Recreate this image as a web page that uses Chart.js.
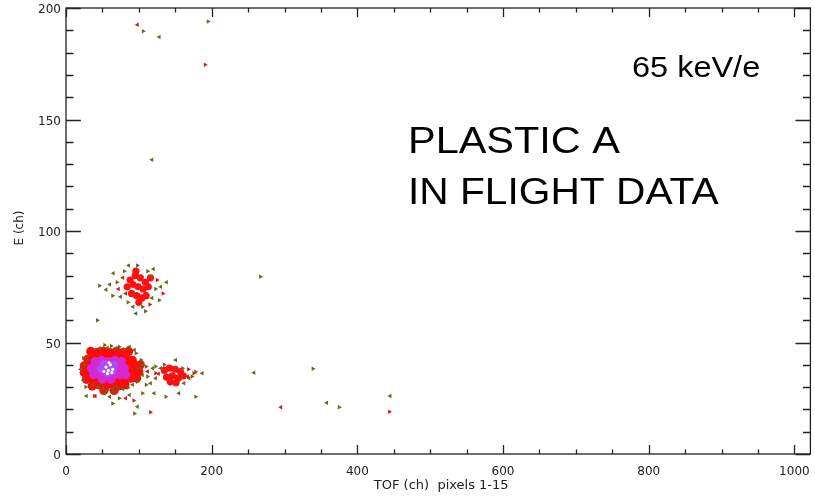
<!DOCTYPE html>
<html>
<head>
<meta charset="utf-8">
<script src="https://cdn.jsdelivr.net/npm/chart.js@4"></script>
<style>
  html, body { margin: 0; padding: 0; background: #fff; }
  #wrap { width: 815px; height: 498px; }
</style>
</head>
<body>
<div id="wrap"><canvas id="c"></canvas></div>
<script>
// ── Axis ticks ───────────────────────────────────────────────
const xTicks = [0, 200, 400, 600, 800, 1000];
const yTicks = [0, 50, 100, 150, 200];
const xMinorStep = 50;
const yMinorStep = 10;

// ── Events, [TOF ch, E ch] ───────────────────────────────────
// dense core of the main spot (red level)
const mainCore = [
  [42,45.5],[51,46],[60,45.5],[69,46],[78,45.5],
  [30,42.5],[38,43],[47,42.5],[56,43],[65,42.5],[74,43],[83,42.5],[91,42],
  [25,39.5],[32,40],[41,39.5],[50,40],[59,39.5],[68,40],[77,39.5],[86,40],[95,39.5],
  [25,36.5],[31,37],[40,36.5],[49,37],[58,36.5],[67,37],[76,36.5],[85,37],[94,36.5],[100,37],
  [28,33.5],[35,34],[44,33.5],[53,34],[62,33.5],[71,34],[80,33.5],[89,34],[97,34],
  [36,30.5],[45,31],[54,30.5],[63,31],[72,30.5],[81,31],
  [52,28.5],[66,28.5],[34,46],[86,46],[102,40]
];
// higher density levels inside the main spot
const magentaCore = [
  [40,41.5],[49,42],[58,41.5],[67,42],[76,41.5],
  [35,38.5],[44,38.5],[53,38.5],[62,38.5],[71,38.5],[80,38.5],
  [38,35.5],[47,35.5],[56,35.5],[65,35.5],[74,35.5],[82,35.5],
  [50,33.5],[62,33.5]
];
const violetCore = [[48,38],[56,39.5],[64,37.5],[57,36],[66,40],[52,40.5]];
const whiteCore  = [[55,39],[58,37.5],[61,40],[64,38],[52,37],[59,41],[57,36],[63,36.5]];

// smaller spots (E ~ 35 at TOF ~ 145, E ~ 75 at TOF ~ 100)
const sideCores = [
  [135,37.5],[142,38.5],[150,38],[157,37],[138,34.5],[146,35],[154,34],[161,35],[143,32.5],[151,32],
  [88,78],[95,80],[102,79],[109,77],[84,75],[92,76],[99,75],[106,74],[113,75],
  [90,72],[97,71],[104,70],[100,68],[110,71],[96,82],[116,79]
];

// single low-level hits
const oliveHits = [
  [46,47.4],[53,48.9],[57,47.7],[62,48.4],[69,47.4],[73,48.1],[94,46.6],[96,45.2],[87,48.1],[80,47],
  [25.5,39.9],[30,42.2],[33,36.9],[35,34.7],[20,38],[24,43],[24,33],[27,30],
  [37,31],[44,30.2],[50.5,29.5],[57,28.7],[64,29.5],[71,29.7],[78,29.1],[85,29.7],[91.5,31],[98,32.4],
  [100.5,38.4],[103,42.2],[105,40],[110,39.2],
  [28,26],[39,26],[60,25.7],[66,27.9],[53,27.2],[73,25],[87,26.5],[64,22.7],[98,21.2],[94,18.2],
  [105,35.4],[112,34.7],[119,38.4],[123,39.2],[116,31.7],[110,31],[123,34],[105,27.2],[121,27.2],
  [137,25.7],[155,27.2],[178,25.7],[130,38.4],[135,40],[150.5,42.2],[160,38.4],[169,34],[178,36.9],
  [187,36.2],[173,34.7],[162,31.7],
  [43,60],[86,84.5],[98,84.5],[65,81],[46,75.5],[55,73.7],[64,71],[138,77],[128,69],[96,63],
  [109,64],[75,70.5],[123,74],[117,79.5],[80,82],[120,83],[70,77],[60,76],[105,66],[118,70],
  [112,82],[130,75],[85,68],[92,66],
  [267,79.5],[258,36.4],[339,38.2],[358,23],[375,21],[445,26],
  [106,189.6],[128,187],[195,194],[118,132]
];
const redHits = [
  [112,37],[123,36.2],[137,34],[144,31.5],[167,34.7],[175.5,36.2],[82,25],[116,18.7],
  [78,79],[125,78],[72,74],[115,67],[82,72],[133,72],
  [98,192.5],[191,174.5],[295,21],[444,19],[127,36],[168,38],[40,26],[93,24]
];

const toXY = list => list.map(([x, y]) => ({ x, y }));
const flip = ctx => (ctx.dataIndex % 2 ? 90 : -90);

function hits(data, color) {
  return { data: toXY(data), pointStyle: "triangle", pointRadius: 2.6, rotation: flip,
           backgroundColor: color, borderWidth: 0 };
}
function blobs(data, color, r) {
  return { data: toXY(data), pointStyle: "circle", pointRadius: r,
           backgroundColor: color, borderWidth: 0 };
}

// ── Frame with inward ticks + text labels (IDL look) ─────────
function stretched(ctx, text, x, y, font, sx) {
  ctx.save();
  ctx.font = font;
  ctx.translate(x, y);
  ctx.scale(sx, 1);
  ctx.fillText(text, 0, 0);
  ctx.restore();
}

const idlFrame = {
  id: "idlFrame",
  afterDraw(chart) {
    const { ctx, chartArea: a, scales: { x, y } } = chart;
    ctx.save();
    ctx.strokeStyle = "#222";
    ctx.lineWidth = 1.3;
    ctx.strokeRect(a.left, a.top, a.right - a.left, a.bottom - a.top);

    const xLen = (a.bottom - a.top) * 0.02;
    const yLen = (a.right - a.left) * 0.02;
    ctx.beginPath();
    for (let v = 0; v <= xTicks[xTicks.length - 1]; v += xMinorStep) {
      const px = Math.round(x.getPixelForValue(v)) + 0.5;
      const L  = xTicks.includes(v) ? xLen : xLen / 2;
      ctx.moveTo(px, a.bottom); ctx.lineTo(px, a.bottom - L);
      ctx.moveTo(px, a.top);    ctx.lineTo(px, a.top + L);
    }
    for (let v = 0; v <= yTicks[yTicks.length - 1]; v += yMinorStep) {
      const py = Math.round(y.getPixelForValue(v)) + 0.5;
      const L  = yTicks.includes(v) ? yLen : yLen / 2;
      ctx.moveTo(a.left, py);  ctx.lineTo(a.left + L, py);
      ctx.moveTo(a.right, py); ctx.lineTo(a.right - L, py);
    }
    ctx.stroke();

    ctx.fillStyle = "#222";
    ctx.textAlign = "center";
    ctx.textBaseline = "middle";
    ctx.font = "13px 'DejaVu Sans'";
    ctx.fillText("TOF (ch)  pixels 1-15", (a.left + a.right) / 2 + 3, 486);
    ctx.save();
    ctx.translate(20, 228);
    ctx.rotate(-Math.PI / 2);
    ctx.font = "12px 'DejaVu Sans'";
    ctx.fillText("E (ch)", 0, 0);
    ctx.restore();

    ctx.fillStyle = "#000";
    ctx.textAlign = "left";
    ctx.textBaseline = "alphabetic";
    stretched(ctx, "65 keV/e",       632, 77,  "29px 'Liberation Sans', Arial", 1.12);
    stretched(ctx, "PLASTIC A",      408, 153, "37px 'Liberation Sans', Arial", 1.12);
    stretched(ctx, "IN FLIGHT DATA", 408, 204, "37px 'Liberation Sans', Arial", 1.1);
    ctx.restore();
  }
};

const tickFont = { family: "'DejaVu Sans'", size: 12 };

new Chart(document.getElementById("c"), {
  type: "scatter",
  data: {
    datasets: [
      blobs(whiteCore,   "#ffffff", 1.6),
      blobs(violetCore,  "#b04cf0", 4),
      blobs(magentaCore, "#d32ad6", 4.5),
      hits(redHits,      "#e41212"),
      hits(oliveHits,    "#66691a"),
      blobs(sideCores,   "#ff1010", 3.6),
      blobs(mainCore,    "#ff0a0a", 4.6)
    ]
  },
  options: {
    responsive: true,
    maintainAspectRatio: false,
    animation: false,
    events: [],
    layout: { padding: { top: 8, right: 2, left: 0, bottom: 0 } },
    plugins: { legend: { display: false }, tooltip: { enabled: false } },
    scales: {
      x: {
        type: "linear", min: 0, max: 1022,
        afterBuildTicks: s => { s.ticks = xTicks.map(v => ({ value: v })); },
        afterFit: s => { s.height = 44; s.paddingLeft = 0; s.paddingRight = 0; },
        ticks: { font: tickFont, color: "#222", padding: 11, maxRotation: 0,
                 autoSkip: false, callback: v => String(v) },
        grid: { display: false, drawTicks: false },
        border: { display: false }
      },
      y: {
        type: "linear", min: 0, max: 200,
        afterBuildTicks: s => { s.ticks = yTicks.map(v => ({ value: v })); },
        afterFit: s => { s.width = 66; s.paddingTop = 0; s.paddingBottom = 0; },
        ticks: { font: tickFont, color: "#222", padding: 5, labelOffset: 2,
                 autoSkip: false, callback: v => String(v) },
        grid: { display: false, drawTicks: false },
        border: { display: false }
      }
    }
  },
  plugins: [idlFrame]
});
</script>
</body>
</html>
